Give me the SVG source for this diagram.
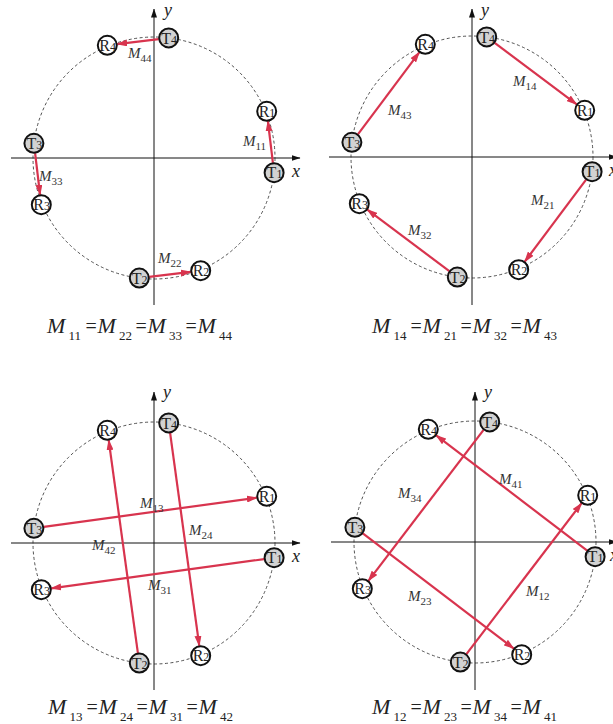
<svg xmlns="http://www.w3.org/2000/svg" width="613" height="724" viewBox="0 0 613 724">
<style>
.ax{stroke:#111;stroke-width:1;fill:none}
.ring{stroke:#333;stroke-width:0.85;fill:none;stroke-dasharray:3 2.5}
.arr{stroke:#d8344e;stroke-width:2.2;fill:none;marker-end:url(#ra)}
.tn{fill:#d2d2d2;stroke:#111;stroke-width:2}
.rn{fill:#fff;stroke:#111;stroke-width:2}
.nt{font-family:"Liberation Serif","Times New Roman",serif;font-size:16px;fill:#222}
.nd{font-size:12px}
.lbl{font-family:"Liberation Serif","Times New Roman",serif;font-size:15px;fill:#333}
.it{font-style:italic}
.sub{font-size:11px}
.axl{font-family:"Liberation Serif","Times New Roman",serif;font-size:18px;font-style:italic;fill:#222}
.eq{font-family:"Liberation Serif","Times New Roman",serif;font-size:22px;fill:#222}
.es{font-size:13px}
.ee{font-size:20px}
</style>
<defs>
<marker id="ra" markerUnits="userSpaceOnUse" markerWidth="11" markerHeight="7" refX="10" refY="3.5" orient="auto"><path d="M0,0 L11,3.5 L0,7 z" fill="#d8344e"/></marker>
<marker id="ka" markerUnits="userSpaceOnUse" markerWidth="9" markerHeight="6" refX="8.5" refY="3" orient="auto"><path d="M0,0 L9,3 L0,6 z" fill="#111"/></marker>
</defs>

<g id="axes">
<line class="ax" x1="11" y1="158" x2="300" y2="158" marker-end="url(#ka)"/>
<line class="ax" x1="154" y1="305" x2="154" y2="9" marker-end="url(#ka)"/>
<circle class="ring" cx="154" cy="158" r="121"/>
<line class="ax" x1="329" y1="157" x2="617" y2="157" marker-end="url(#ka)"/>
<line class="ax" x1="472" y1="305" x2="472" y2="9" marker-end="url(#ka)"/>
<circle class="ring" cx="472" cy="157" r="121"/>
<line class="ax" x1="11" y1="543" x2="300" y2="543" marker-end="url(#ka)"/>
<line class="ax" x1="154" y1="690" x2="154" y2="392" marker-end="url(#ka)"/>
<circle class="ring" cx="154" cy="543" r="121"/>
<line class="ax" x1="331" y1="542" x2="617" y2="542" marker-end="url(#ka)"/>
<line class="ax" x1="475" y1="690" x2="475" y2="392" marker-end="url(#ka)"/>
<circle class="ring" cx="475" cy="542" r="121"/>
<text class="axl" x="292" y="177">x</text>
<text class="axl" x="164" y="16">y</text>
<text class="axl" x="609" y="176">x</text>
<text class="axl" x="481" y="16">y</text>
<text class="axl" x="292" y="562">x</text>
<text class="axl" x="163" y="398">y</text>
<text class="axl" x="610" y="561">x</text>
<text class="axl" x="484" y="398">y</text>
</g>

<g id="connectors">
<line class="arr" x1="272.9" y1="162.8" x2="267.9" y2="121.2"/>
<line class="arr" x1="158.8" y1="39.1" x2="117.2" y2="44.1"/>
<line class="arr" x1="35.1" y1="153.2" x2="40.1" y2="194.8"/>
<line class="arr" x1="149.2" y1="276.9" x2="190.8" y2="271.9"/>

<line class="arr" x1="494.7" y1="42.9" x2="576.7" y2="104.3"/>
<line class="arr" x1="586.1" y1="179.7" x2="524.7" y2="261.7"/>
<line class="arr" x1="449.3" y1="271.1" x2="367.3" y2="209.7"/>
<line class="arr" x1="357.9" y1="134.3" x2="419.3" y2="52.3"/>

<line class="arr" x1="43.8" y1="526.9" x2="256.8" y2="497.7"/>
<line class="arr" x1="264.2" y1="559.1" x2="51.2" y2="588.3"/>
<line class="arr" x1="170.1" y1="432.8" x2="199.3" y2="645.8"/>
<line class="arr" x1="137.9" y1="653.2" x2="108.7" y2="440.2"/>

<line class="arr" x1="466.4" y1="654.2" x2="581.6" y2="503.2"/>
<line class="arr" x1="362.8" y1="533.4" x2="513.8" y2="648.6"/>
<line class="arr" x1="483.6" y1="429.8" x2="368.4" y2="580.8"/>
<line class="arr" x1="587.2" y1="550.6" x2="436.2" y2="435.4"/>
</g>

<!-- Panel 1 nodes -->
<g id="p1-T1"><circle class="tn" cx="274.1" cy="172.7" r="9.5"/><text class="nt" x="266.6" y="178.4">T<tspan class="nd">1</tspan></text></g>
<g id="p1-R1"><circle class="rn" cx="266.7" cy="111.3" r="9.5"/><text class="nt" x="258.7" y="117">R<tspan class="nd">1</tspan></text></g>
<g id="p1-T4"><circle class="tn" cx="168.7" cy="37.9" r="9.5"/><text class="nt" x="161.2" y="43.6">T<tspan class="nd">4</tspan></text></g>
<g id="p1-R4"><circle class="rn" cx="107.3" cy="45.3" r="9.5"/><text class="nt" x="99.3" y="51">R<tspan class="nd">4</tspan></text></g>
<g id="p1-T3"><circle class="tn" cx="33.9" cy="143.3" r="9.5"/><text class="nt" x="26.4" y="149">T<tspan class="nd">3</tspan></text></g>
<g id="p1-R3"><circle class="rn" cx="41.3" cy="204.7" r="9.5"/><text class="nt" x="33.3" y="210.4">R<tspan class="nd">3</tspan></text></g>
<g id="p1-T2"><circle class="tn" cx="139.3" cy="278.1" r="9.5"/><text class="nt" x="131.8" y="283.8">T<tspan class="nd">2</tspan></text></g>
<g id="p1-R2"><circle class="rn" cx="200.7" cy="270.7" r="9.5"/><text class="nt" x="192.7" y="276.4">R<tspan class="nd">2</tspan></text></g>

<!-- Panel 2 nodes -->
<g id="p2-T1"><circle class="tn" cx="592.1" cy="171.7" r="9.5"/><text class="nt" x="584.6" y="177.4">T<tspan class="nd">1</tspan></text></g>
<g id="p2-R1"><circle class="rn" cx="584.7" cy="110.3" r="9.5"/><text class="nt" x="576.7" y="116">R<tspan class="nd">1</tspan></text></g>
<g id="p2-T4"><circle class="tn" cx="486.7" cy="36.9" r="9.5"/><text class="nt" x="479.2" y="42.6">T<tspan class="nd">4</tspan></text></g>
<g id="p2-R4"><circle class="rn" cx="425.3" cy="44.3" r="9.5"/><text class="nt" x="417.3" y="50">R<tspan class="nd">4</tspan></text></g>
<g id="p2-T3"><circle class="tn" cx="351.9" cy="142.3" r="9.5"/><text class="nt" x="344.4" y="148">T<tspan class="nd">3</tspan></text></g>
<g id="p2-R3"><circle class="rn" cx="359.3" cy="203.7" r="9.5"/><text class="nt" x="351.3" y="209.4">R<tspan class="nd">3</tspan></text></g>
<g id="p2-T2"><circle class="tn" cx="457.3" cy="277.1" r="9.5"/><text class="nt" x="449.8" y="282.8">T<tspan class="nd">2</tspan></text></g>
<g id="p2-R2"><circle class="rn" cx="518.7" cy="269.7" r="9.5"/><text class="nt" x="510.7" y="275.4">R<tspan class="nd">2</tspan></text></g>

<!-- Panel 3 nodes -->
<g id="p3-T1"><circle class="tn" cx="274.1" cy="557.7" r="9.5"/><text class="nt" x="266.6" y="563.4">T<tspan class="nd">1</tspan></text></g>
<g id="p3-R1"><circle class="rn" cx="266.7" cy="496.3" r="9.5"/><text class="nt" x="258.7" y="502">R<tspan class="nd">1</tspan></text></g>
<g id="p3-T4"><circle class="tn" cx="168.7" cy="422.9" r="9.5"/><text class="nt" x="161.2" y="428.6">T<tspan class="nd">4</tspan></text></g>
<g id="p3-R4"><circle class="rn" cx="107.3" cy="430.3" r="9.5"/><text class="nt" x="99.3" y="436">R<tspan class="nd">4</tspan></text></g>
<g id="p3-T3"><circle class="tn" cx="33.9" cy="528.3" r="9.5"/><text class="nt" x="26.4" y="534">T<tspan class="nd">3</tspan></text></g>
<g id="p3-R3"><circle class="rn" cx="41.3" cy="589.7" r="9.5"/><text class="nt" x="33.3" y="595.4">R<tspan class="nd">3</tspan></text></g>
<g id="p3-T2"><circle class="tn" cx="139.3" cy="663.1" r="9.5"/><text class="nt" x="131.8" y="668.8">T<tspan class="nd">2</tspan></text></g>
<g id="p3-R2"><circle class="rn" cx="200.7" cy="655.7" r="9.5"/><text class="nt" x="192.7" y="661.4">R<tspan class="nd">2</tspan></text></g>

<!-- Panel 4 nodes -->
<g id="p4-T1"><circle class="tn" cx="595.1" cy="556.7" r="9.5"/><text class="nt" x="587.6" y="562.4">T<tspan class="nd">1</tspan></text></g>
<g id="p4-R1"><circle class="rn" cx="587.7" cy="495.3" r="9.5"/><text class="nt" x="579.7" y="501">R<tspan class="nd">1</tspan></text></g>
<g id="p4-T4"><circle class="tn" cx="489.7" cy="421.9" r="9.5"/><text class="nt" x="482.2" y="427.6">T<tspan class="nd">4</tspan></text></g>
<g id="p4-R4"><circle class="rn" cx="428.3" cy="429.3" r="9.5"/><text class="nt" x="420.3" y="435">R<tspan class="nd">4</tspan></text></g>
<g id="p4-T3"><circle class="tn" cx="354.9" cy="527.3" r="9.5"/><text class="nt" x="347.4" y="533">T<tspan class="nd">3</tspan></text></g>
<g id="p4-R3"><circle class="rn" cx="362.3" cy="588.7" r="9.5"/><text class="nt" x="354.3" y="594.4">R<tspan class="nd">3</tspan></text></g>
<g id="p4-T2"><circle class="tn" cx="460.3" cy="662.1" r="9.5"/><text class="nt" x="452.8" y="667.8">T<tspan class="nd">2</tspan></text></g>
<g id="p4-R2"><circle class="rn" cx="521.7" cy="654.7" r="9.5"/><text class="nt" x="513.7" y="660.4">R<tspan class="nd">2</tspan></text></g>

<g id="labels">
<text class="lbl" x="128" y="58"><tspan class="it">M</tspan><tspan class="sub" dy="4">44</tspan></text>
<text class="lbl" x="243" y="146"><tspan class="it">M</tspan><tspan class="sub" dy="4">11</tspan></text>
<text class="lbl" x="39" y="181"><tspan class="it">M</tspan><tspan class="sub" dy="4">33</tspan></text>
<text class="lbl" x="158" y="263"><tspan class="it">M</tspan><tspan class="sub" dy="4">22</tspan></text>

<text class="lbl" x="513" y="86"><tspan class="it">M</tspan><tspan class="sub" dy="4">14</tspan></text>
<text class="lbl" x="388" y="115"><tspan class="it">M</tspan><tspan class="sub" dy="4">43</tspan></text>
<text class="lbl" x="531" y="205"><tspan class="it">M</tspan><tspan class="sub" dy="4">21</tspan></text>
<text class="lbl" x="408" y="235"><tspan class="it">M</tspan><tspan class="sub" dy="4">32</tspan></text>

<text class="lbl" x="140" y="508"><tspan class="it">M</tspan><tspan class="sub" dy="4">13</tspan></text>
<text class="lbl" x="189" y="535"><tspan class="it">M</tspan><tspan class="sub" dy="4">24</tspan></text>
<text class="lbl" x="92" y="550"><tspan class="it">M</tspan><tspan class="sub" dy="4">42</tspan></text>
<text class="lbl" x="148" y="590"><tspan class="it">M</tspan><tspan class="sub" dy="4">31</tspan></text>

<text class="lbl" x="499" y="484"><tspan class="it">M</tspan><tspan class="sub" dy="4">41</tspan></text>
<text class="lbl" x="398" y="498"><tspan class="it">M</tspan><tspan class="sub" dy="4">34</tspan></text>
<text class="lbl" x="526" y="596"><tspan class="it">M</tspan><tspan class="sub" dy="4">12</tspan></text>
<text class="lbl" x="408" y="601"><tspan class="it">M</tspan><tspan class="sub" dy="4">23</tspan></text>
</g>

<g id="equations">
<text class="eq" y="333"><tspan class="it" x="47">M</tspan><tspan class="es" x="68.5" dy="7">11</tspan><tspan class="ee" x="85.5" dy="-7">=</tspan><tspan class="it" x="97.5">M</tspan><tspan class="es" x="119" dy="7">22</tspan><tspan class="ee" x="135.5" dy="-7">=</tspan><tspan class="it" x="147.5">M</tspan><tspan class="es" x="169" dy="7">33</tspan><tspan class="ee" x="185.5" dy="-7">=</tspan><tspan class="it" x="197.5">M</tspan><tspan class="es" x="219" dy="7">44</tspan></text>
<text class="eq" y="333"><tspan class="it" x="372">M</tspan><tspan class="es" x="393.5" dy="7">14</tspan><tspan class="ee" x="410.5" dy="-7">=</tspan><tspan class="it" x="422.5">M</tspan><tspan class="es" x="444" dy="7">21</tspan><tspan class="ee" x="460.5" dy="-7">=</tspan><tspan class="it" x="472.5">M</tspan><tspan class="es" x="494" dy="7">32</tspan><tspan class="ee" x="510.5" dy="-7">=</tspan><tspan class="it" x="522.5">M</tspan><tspan class="es" x="544" dy="7">43</tspan></text>
<text class="eq" y="714"><tspan class="it" x="48">M</tspan><tspan class="es" x="69.5" dy="7">13</tspan><tspan class="ee" x="86.5" dy="-7">=</tspan><tspan class="it" x="98.5">M</tspan><tspan class="es" x="120" dy="7">24</tspan><tspan class="ee" x="136.5" dy="-7">=</tspan><tspan class="it" x="148.5">M</tspan><tspan class="es" x="170" dy="7">31</tspan><tspan class="ee" x="186.5" dy="-7">=</tspan><tspan class="it" x="198.5">M</tspan><tspan class="es" x="220" dy="7">42</tspan></text>
<text class="eq" y="714"><tspan class="it" x="372">M</tspan><tspan class="es" x="393.5" dy="7">12</tspan><tspan class="ee" x="410.5" dy="-7">=</tspan><tspan class="it" x="422.5">M</tspan><tspan class="es" x="444" dy="7">23</tspan><tspan class="ee" x="460.5" dy="-7">=</tspan><tspan class="it" x="472.5">M</tspan><tspan class="es" x="494" dy="7">34</tspan><tspan class="ee" x="510.5" dy="-7">=</tspan><tspan class="it" x="522.5">M</tspan><tspan class="es" x="544" dy="7">41</tspan></text>
</g>
</svg>
